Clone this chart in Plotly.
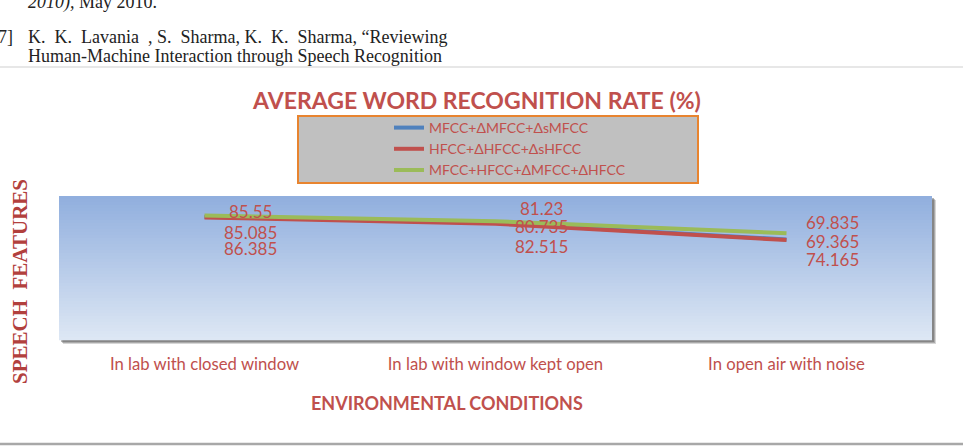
import plotly.graph_objects as go

# ---- data ----
conditions = ["In lab with closed window", "In lab with window kept open", "In open air with noise"]
series_names = ["MFCC+ΔMFCC+ΔsMFCC", "HFCC+ΔHFCC+ΔsHFCC", "MFCC+HFCC+ΔMFCC+ΔHFCC"]
mfcc = [85.55, 81.23, 69.835]
hfcc = [85.085, 80.735, 69.365]
combined = [86.385, 82.515, 74.165]

# ---- styles ----
colors = ["#4f81bd", "#c0504d", "#9bbb59"]
red_text = "#c0504d"
label_font = "Lato"
# vertical offsets (px) of the data labels per series / point
label_yshift = [[5, 15, 17], [-15, -3, -1], [-33, -25, -26]]

W, H = 963, 448
L, R, T, B = 59, 31, 196, 108
PW, PH = W - L - R, H - T - B


def px_x(p):
    return (p - L) / PW


def px_y(p):
    return (H - B - p) / PH


fig = go.Figure()
all_series = [mfcc, hfcc, combined]
for name, vals, col in zip(series_names, all_series, colors):
    fig.add_trace(go.Scatter(x=conditions, y=vals, mode="lines", name=name,
                             line=dict(color=col, width=4)))

annotations = []
for si, vals in enumerate(all_series):
    for pi, v in enumerate(vals):
        annotations.append(dict(x=conditions[pi], y=v, xref="x", yref="y", text=f"{v:g}",
                                showarrow=False, xshift=46, yshift=label_yshift[si][pi],
                                xanchor="center", yanchor="middle",
                                font=dict(family=label_font, size=17, color=red_text)))

serif = dict(family="Liberation Serif", size=18, color="#222")
# axis titles and page text
annotations += [
    dict(x=px_x(447), y=px_y(403), xref="paper", yref="paper", text="<b>ENVIRONMENTAL CONDITIONS</b>",
         xanchor="center", yanchor="middle",
         showarrow=False, font=dict(family=label_font, size=18, color=red_text)),
    dict(x=px_x(20), y=px_y(282), xref="paper", yref="paper", text="<b>SPEECH  FEATURES</b>",
         xanchor="center", yanchor="middle",
         textangle=-90, showarrow=False, font=dict(family="Liberation Serif", size=21, color="#b2403d")),
    dict(x=px_x(26), y=px_y(15), xref="paper", yref="paper", xanchor="left", yanchor="bottom",
         text="<i>2010),</i> May 2010.", showarrow=False, font=serif),
    dict(x=px_x(-4), y=px_y(49), xref="paper", yref="paper", xanchor="left", yanchor="bottom",
         text="7]", showarrow=False, font=serif),
    dict(x=px_x(26), y=px_y(49), xref="paper", yref="paper", xanchor="left", yanchor="bottom",
         text="K.  K.  Lavania  , S.  Sharma, K.  K.  Sharma, “Reviewing", showarrow=False,
         font=serif),
    dict(x=px_x(26), y=px_y(68), xref="paper", yref="paper", xanchor="left", yanchor="bottom",
         text="Human-Machine Interaction through Speech Recognition", showarrow=False,
         font=serif),
]

shapes = []
# shadow
for off, op in [(4, 0.25), (3, 0.35), (2, 0.45)]:
    shapes.append(dict(type="rect", xref="paper", yref="paper", layer="below",
                       x0=px_x(L + off), x1=px_x(W - R + off), y0=px_y(H - B + off), y1=px_y(T + off),
                       fillcolor=f"rgba(90,90,90,{op})", line=dict(width=0)))
# gradient background
top = (145, 175, 222)
bot = (221, 231, 244)
n = 48
for i in range(n):
    t = i / (n - 1)
    c = tuple(round(top[k] + (bot[k] - top[k]) * t) for k in range(3))
    shapes.append(dict(type="rect", xref="x domain", yref="y domain", layer="below",
                       x0=0, x1=1, y0=1 - (i + 1) / n - 0.002, y1=1 - i / n,
                       fillcolor=f"rgb{c}", line=dict(width=0)))
# legend box
shapes.append(dict(type="rect", xref="paper", yref="paper", layer="below",
                   x0=px_x(298), x1=px_x(698), y0=px_y(183), y1=px_y(116),
                   fillcolor="#c0c0c0", line=dict(color="#e8842f", width=2)))
# page rules
shapes.append(dict(type="line", xref="paper", yref="paper", x0=px_x(0), x1=px_x(W),
                   y0=px_y(67), y1=px_y(67), line=dict(color="#cfcfcf", width=1)))
shapes.append(dict(type="line", xref="paper", yref="paper", x0=px_x(0), x1=px_x(W),
                   y0=px_y(444), y1=px_y(444), line=dict(color="#a8a8a8", width=2.5)))

fig.update_layout(
    width=W, height=H,
    margin=dict(l=L, r=R, t=T, b=B),
    paper_bgcolor="white", plot_bgcolor="rgba(0,0,0,0)",
    title=dict(text="<b>AVERAGE WORD RECOGNITION RATE (%)</b>", x=px_x(477), xref="paper",
               xanchor="center", y=1 - 101 / H, yref="container", yanchor="middle",
               font=dict(family=label_font, size=23, color=red_text)),
    legend=dict(x=px_x(389), y=px_y(112), xanchor="left", yanchor="top", bgcolor="rgba(0,0,0,0)",
                font=dict(family=label_font, size=14, color=red_text), tracegroupgap=0,
                itemwidth=30),
    xaxis=dict(type="category", range=[-0.5, 2.5], showgrid=False, zeroline=False, showline=False,
               ticks="", ticklabelstandoff=12,
               tickfont=dict(family=label_font, size=16.7, color=red_text)),
    yaxis=dict(range=[0, 100], visible=False),
    annotations=annotations,
    shapes=shapes,
    showlegend=True,
)

fig.write_html("out.html")
